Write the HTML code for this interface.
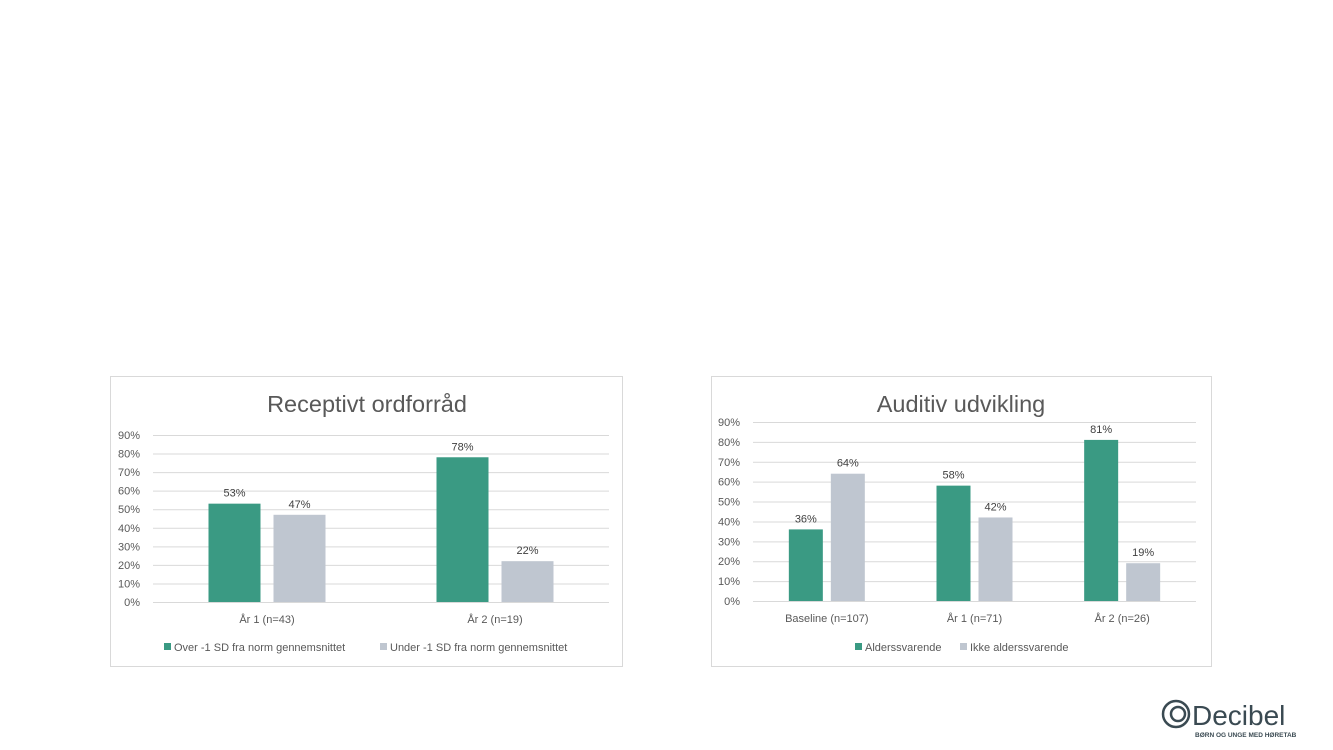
<!DOCTYPE html>
<html><head><meta charset="utf-8">
<style>
body{margin:0;width:1333px;height:750px;background:#fff;overflow:hidden;font-family:"Liberation Sans",sans-serif;}
svg{position:absolute;left:0;top:0;}
</style></head>
<body>
<svg id="s" width="1333" height="750">
  <rect x="110.5" y="376.5" width="512" height="290" fill="#fff" stroke="#d9d9d9"/>
  <rect x="711.5" y="376.5" width="500" height="290" fill="#fff" stroke="#d9d9d9"/>
  <text x="367" y="412" text-anchor="middle" font-size="23.5" fill="#595959">Receptivt ordforråd</text>
  <text x="961" y="412" text-anchor="middle" font-size="23.5" fill="#595959">Auditiv udvikling</text>
  <g>
    <circle cx="1176" cy="714" r="13" fill="none" stroke="#3a4a52" stroke-width="2.5"/>
    <circle cx="1178" cy="714" r="7" fill="none" stroke="#3a4a52" stroke-width="2.5"/>
    <text x="1192" y="725" font-size="28" fill="#3a4a52">Decibel</text>
    <text x="1195" y="737" font-size="6.5" font-weight="bold" fill="#3a4a52">BØRN OG UNGE MED HØRETAB</text>
  </g>
</svg>
<script>
const c1Categories=["År 1 (n=43)","År 2 (n=19)"];
const c1Over=[53,78];
const c1Under=[47,22];
const c1Series=["Over -1 SD fra norm gennemsnittet","Under -1 SD fra norm gennemsnittet"];
const c2Categories=["Baseline (n=107)","År 1 (n=71)","År 2 (n=26)"];
const c2Alders=[36,58,81];
const c2Ikke=[64,42,19];
const c2Series=["Alderssvarende","Ikke alderssvarende"];
const yTicks=[0,10,20,30,40,50,60,70,80,90];

const NS="http://www.w3.org/2000/svg";
const svg=document.getElementById('s');
function mk(tag,attrs,txt){const e=document.createElementNS(NS,tag);for(const k in attrs)e.setAttribute(k,attrs[k]);if(txt!==undefined)e.textContent=txt;svg.appendChild(e);return e;}

function drawChart(cfg,cats,s1,s2,names){
  const y=v=>cfg.y0-(cfg.y0-cfg.y90)*v/90;
  const bw=(cfg.x1-cfg.x0)/cats.length;
  yTicks.forEach(t=>{
    const l=mk('line',{x1:cfg.x0,x2:cfg.x1,y1:y(t)+0.5,y2:y(t)+0.5,stroke:'#d9d9d9','stroke-width':1});
    
    
    const tx=mk('text',{x:cfg.x0-13,y:y(t)+4,'text-anchor':'end','font-size':11,fill:'#595959'},t+'%');
    
    
  });
  cats.forEach((c,i)=>{
    const cx=cfg.x0+bw*(i+0.5);
    [[s1[i],'#3a9a83',cx-cfg.gap/2-cfg.bar],[s2[i],'#bfc6d0',cx+cfg.gap/2]].forEach((d,j)=>{
      const r=mk('rect',{x:d[2],y:y(d[0]),width:cfg.bar,height:y(0)-y(d[0]),fill:d[1]});
      
      
      const lb=mk('text',{x:d[2]+cfg.bar/2,y:y(d[0])-7,'text-anchor':'middle','font-size':11,fill:'#404040'},d[0]+'%');
      
      
    });
    const xl=mk('text',{x:cx,y:cfg.y0+21,'text-anchor':'middle','font-size':11,fill:'#595959'},c);
    
    
  });
  names.forEach((n,j)=>{
    const lx=cfg.legX[j];
    const sw=mk('rect',{x:lx,y:cfg.legY-8,width:7,height:7,fill:j?'#bfc6d0':'#3a9a83'});
    
    
    const lt=mk('text',{x:lx+10,y:cfg.legY,'font-size':11,fill:'#595959'},n);
    
    
  });
}
drawChart({x0:153,x1:609,y0:602,y90:435,bar:52,gap:13,legX:[164,380],legY:651},c1Categories,c1Over,c1Under,c1Series);
drawChart({x0:753,x1:1196,y0:601,y90:422,bar:34,gap:8,legX:[855,960],legY:651},c2Categories,c2Alders,c2Ikke,c2Series);
</script>
</body></html>
